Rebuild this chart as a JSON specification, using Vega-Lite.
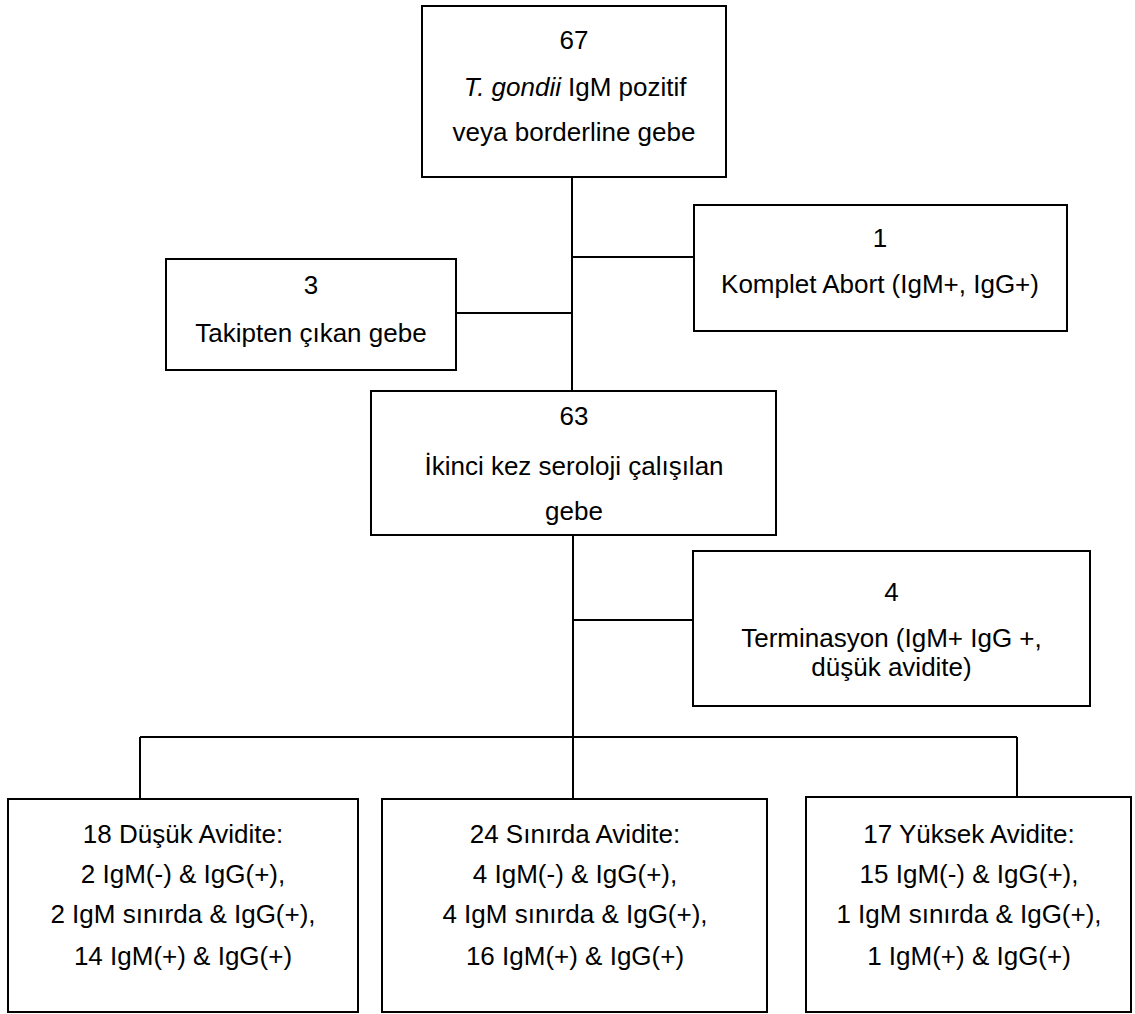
{
  "$schema": "https://vega.github.io/schema/vega-lite/v6.json",
  "width": 1135,
  "height": 1014,
  "autosize": {"type": "none"},
  "padding": 0,
  "background": "white",
  "config": {"view": {"stroke": null}},
  "datasets": {
    "lines": [
      {"x1": 572, "y1": 177, "x2": 572, "y2": 391},
      {"x1": 572, "y1": 257, "x2": 694, "y2": 257},
      {"x1": 456, "y1": 313, "x2": 572, "y2": 313},
      {"x1": 573, "y1": 535, "x2": 573, "y2": 799},
      {"x1": 573, "y1": 620, "x2": 693, "y2": 620},
      {"x1": 140, "y1": 737, "x2": 1017, "y2": 737},
      {"x1": 140, "y1": 737, "x2": 140, "y2": 799},
      {"x1": 1017, "y1": 737, "x2": 1017, "y2": 797}
    ],
    "boxes": [
      {"box": "top", "x1": 422, "x2": 726, "y1": 6, "y2": 177},
      {"box": "abort", "x1": 694, "x2": 1067, "y1": 205, "y2": 331},
      {"box": "takip", "x1": 166, "x2": 456, "y1": 259, "y2": 370},
      {"box": "second", "x1": 371, "x2": 776, "y1": 391, "y2": 535},
      {"box": "term", "x1": 693, "x2": 1090, "y1": 551, "y2": 706},
      {"box": "low", "x1": 8, "x2": 358, "y1": 799, "y2": 1012},
      {"box": "border", "x1": 382, "x2": 767, "y1": 799, "y2": 1012},
      {"box": "high", "x1": 806, "x2": 1131, "y1": 797, "y2": 1012}
    ],
    "texts": [
      {"x": 574, "y": 40.5, "t": "67"},
      {"x": 574, "y": 132.5, "t": "veya borderline gebe"},
      {"x": 880, "y": 239, "t": "1"},
      {"x": 880, "y": 284.5, "t": "Komplet Abort (IgM+, IgG+)"},
      {"x": 311, "y": 286, "t": "3"},
      {"x": 311, "y": 333.5, "t": "Takipten çıkan gebe"},
      {"x": 574, "y": 416.7, "t": "63"},
      {"x": 574, "y": 466.5, "t": "İkinci kez seroloji çalışılan"},
      {"x": 574, "y": 511.7, "t": "gebe"},
      {"x": 891.5, "y": 593, "t": "4"},
      {"x": 891.5, "y": 639, "t": "Terminasyon (IgM+ IgG +,"},
      {"x": 891.5, "y": 668, "t": "düşük avidite)"},
      {"x": 183, "y": 834.7, "t": "18 Düşük Avidite:"},
      {"x": 183, "y": 875, "t": "2 IgM(-) & IgG(+),"},
      {"x": 183, "y": 915, "t": "2 IgM sınırda & IgG(+),"},
      {"x": 183, "y": 957, "t": "14 IgM(+) & IgG(+)"},
      {"x": 575, "y": 834.7, "t": "24 Sınırda Avidite:"},
      {"x": 575, "y": 875, "t": "4 IgM(-) & IgG(+),"},
      {"x": 575, "y": 915, "t": "4 IgM sınırda & IgG(+),"},
      {"x": 575, "y": 957, "t": "16 IgM(+) & IgG(+)"},
      {"x": 969, "y": 834.7, "t": "17 Yüksek Avidite:"},
      {"x": 969, "y": 875, "t": "15 IgM(-) & IgG(+),"},
      {"x": 969, "y": 915, "t": "1 IgM sınırda & IgG(+),"},
      {"x": 969, "y": 957, "t": "1 IgM(+) & IgG(+)"}
    ],
    "italic": [
      {"x": 561, "y": 88, "t": "T. gondii"}
    ],
    "leftText": [
      {"x": 568, "y": 88, "t": "IgM pozitif"}
    ]
  },
  "layer": [
    {
      "data": {"name": "lines"},
      "mark": {"type": "rule", "color": "black", "strokeWidth": 2},
      "encoding": {
        "x": {"field": "x1", "type": "quantitative", "scale": {"domain": [0, 1135], "nice": false, "zero": false}, "axis": null},
        "x2": {"field": "x2"},
        "y": {"field": "y1", "type": "quantitative", "scale": {"domain": [0, 1014], "nice": false, "zero": false, "reverse": true}, "axis": null},
        "y2": {"field": "y2"}
      }
    },
    {
      "data": {"name": "boxes"},
      "mark": {"type": "rect", "fill": "white", "stroke": "black", "strokeWidth": 2},
      "encoding": {
        "x": {"field": "x1", "type": "quantitative"},
        "x2": {"field": "x2"},
        "y": {"field": "y1", "type": "quantitative"},
        "y2": {"field": "y2"}
      }
    },
    {
      "data": {"name": "texts"},
      "mark": {"type": "text", "font": "Liberation Sans", "fontSize": 26, "color": "black", "align": "center", "baseline": "middle"},
      "encoding": {
        "x": {"field": "x", "type": "quantitative"},
        "y": {"field": "y", "type": "quantitative"},
        "text": {"field": "t"}
      }
    },
    {
      "data": {"name": "italic"},
      "mark": {"type": "text", "font": "Liberation Sans", "fontSize": 26, "fontStyle": "italic", "color": "black", "align": "right", "baseline": "middle"},
      "encoding": {
        "x": {"field": "x", "type": "quantitative"},
        "y": {"field": "y", "type": "quantitative"},
        "text": {"field": "t"}
      }
    },
    {
      "data": {"name": "leftText"},
      "mark": {"type": "text", "font": "Liberation Sans", "fontSize": 26, "color": "black", "align": "left", "baseline": "middle"},
      "encoding": {
        "x": {"field": "x", "type": "quantitative"},
        "y": {"field": "y", "type": "quantitative"},
        "text": {"field": "t"}
      }
    }
  ]
}
